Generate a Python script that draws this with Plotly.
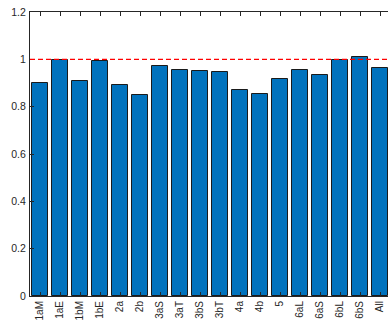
import plotly.graph_objects as go

# Ratio per group, with the full-sample ratio in the last bar
groups = ["1aM", "1aE", "1bM", "1bE", "2a", "2b", "3aS", "3aT", "3bS", "3bT",
          "4a", "4b", "5", "6aL", "6aS", "6bL", "6bS", "All"]
ratios = [0.898, 0.997, 0.907, 0.994, 0.891, 0.848, 0.973, 0.953, 0.951, 0.948,
          0.870, 0.855, 0.917, 0.956, 0.935, 0.998, 1.010, 0.963]
reference_level = 1.0
y_ticks = [0, 0.2, 0.4, 0.6, 0.8, 1.0, 1.2]

positions = list(range(1, len(groups) + 1))
axis_color = "#262626"
font = dict(family="Liberation Sans, Arial, sans-serif", size=10.5, color=axis_color)
xfont = dict(family="Liberation Sans, Arial, sans-serif", size=10, color=axis_color)

fig = go.Figure()
fig.add_trace(go.Bar(
    x=positions,
    y=ratios,
    width=0.8,
    marker=dict(color="#0072BD", line=dict(color="#1a1a1a", width=1)),
    showlegend=False,
))

# Dashed reference line at 1
fig.add_shape(type="line", xref="paper", yref="y", x0=0, x1=1,
              y0=reference_level, y1=reference_level,
              line=dict(color="#ff0000", width=1.4, dash="5px,3px"), layer="above")

left, top, bottom = 30, 12, 25
plot_w = 388 - left
fig.update_layout(
    width=388, height=321,
    margin=dict(l=left, r=0, t=top, b=bottom, pad=0, autoexpand=False),
    paper_bgcolor="white", plot_bgcolor="white",
    font=font,
    bargap=0,
)
fig.update_xaxes(
    range=[0.5, 0.5 + plot_w / 20.0],
    tickmode="array", tickvals=positions, ticktext=groups,
    tickangle=-90,
    ticks="inside", ticklen=4, tickcolor=axis_color, tickwidth=1,
    showline=True, linecolor=axis_color, linewidth=1, mirror="ticks",
    showgrid=False, zeroline=False,
    automargin=False,
    ticklabelstandoff=0,
    tickfont=xfont,
)
fig.update_yaxes(
    range=[0, 1.2],
    tickmode="array", tickvals=y_ticks,
    ticktext=[("%g" % v) for v in y_ticks],
    ticks="inside", ticklen=4, tickcolor=axis_color, tickwidth=1,
    showline=True, linecolor=axis_color, linewidth=1, mirror=False,
    showgrid=False, zeroline=False,
    automargin=False,
    ticklabelstandoff=1,
    tickfont=font,
)

fig.write_html("out.html")
